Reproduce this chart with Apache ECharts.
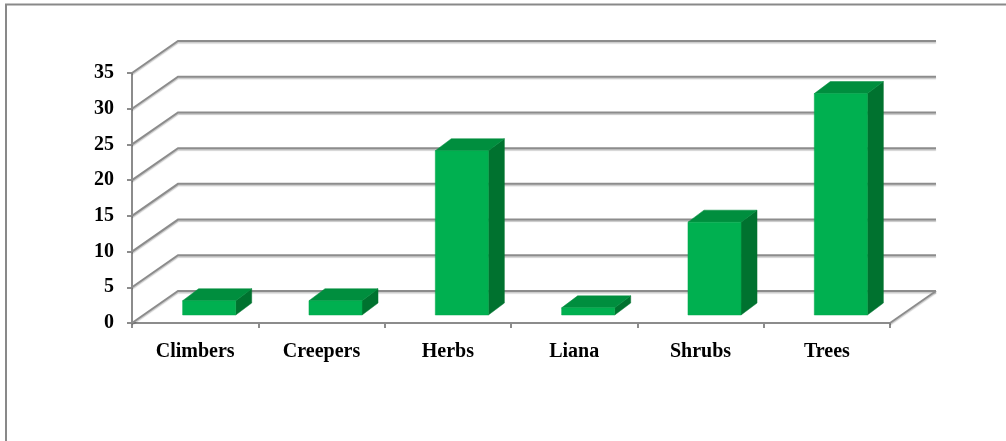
<!DOCTYPE html>
<html>
<head>
<meta charset="utf-8">
<script src="https://cdn.jsdelivr.net/npm/echarts@6/dist/echarts.min.js"></script>
<style>html,body{margin:0;padding:0;background:#fff;}#c{width:1006px;height:441px;}</style>
</head>
<body>
<div id="c"></div>
<script>
var categories = ['Climbers', 'Creepers', 'Herbs', 'Liana', 'Shrubs', 'Trees'];
var values = [2, 2, 23, 1, 13, 31];
var gridValues = [0, 5, 10, 15, 20, 25, 30, 35];

var DEPTH_X = 46, DEPTH_Y = -32;
var BAR_SHIFT_X = 14, BAR_SHIFT_Y = -8;
var BAR_DX = 16, BAR_DY = -12;
var lineGray = '#8c8c8c';
var labelFont = { fontFamily: 'Liberation Serif', fontWeight: 'bold', fontSize: 20, color: '#000' };

var chart = echarts.init(document.getElementById('c'), null, { renderer: 'canvas' });

var option = {
  animation: false,
  backgroundColor: '#fff',
  graphic: [{
    type: 'rect', z: 0, silent: true,
    shape: { x: 6, y: 4.5, width: 1100, height: 600 },
    style: { fill: 'none', stroke: '#898989', lineWidth: 2 }
  }],
  grid: { left: 132, right: 116, top: 73, bottom: 118, containLabel: false },
  xAxis: {
    type: 'category',
    data: categories,
    boundaryGap: true,
    axisLine: { show: true, lineStyle: { color: lineGray, width: 2 } },
    axisTick: { show: true, length: 5, lineStyle: { color: lineGray, width: 2 } },
    axisLabel: Object.assign({ margin: 19 }, labelFont),
    splitLine: { show: false }
  },
  yAxis: {
    type: 'value',
    min: 0, max: 35, interval: 5,
    axisLine: { show: true, lineStyle: { color: lineGray, width: 2 } },
    axisTick: { show: true, length: 5, lineStyle: { color: lineGray, width: 2 } },
    axisLabel: Object.assign({ margin: 18 }, labelFont),
    splitLine: { show: false }
  },
  series: [
    {
      type: 'custom',
      z: 1,
      silent: true,
      data: gridValues.map(function (v) { return [0, v]; }),
      renderItem: function (params, api) {
        var cs = params.coordSys;
        var v = api.value(1);
        var y = api.coord([0, v])[1];
        var gx = cs.x, gr = cs.x + cs.width;
        var children = [{
          type: 'polyline',
          shape: { points: [[gx, y], [gx + DEPTH_X, y + DEPTH_Y], [gr + DEPTH_X, y + DEPTH_Y]] },
          style: { fill: null, stroke: lineGray, lineWidth: 2, shadowColor: 'rgba(0,0,0,0.22)', shadowBlur: 1, shadowOffsetY: 1.5 }
        }];
        if (v === 0) {
          children.push({
            type: 'line',
            shape: { x1: gr, y1: y, x2: gr + DEPTH_X, y2: y + DEPTH_Y },
            style: { stroke: lineGray, lineWidth: 2, shadowColor: 'rgba(0,0,0,0.22)', shadowBlur: 1, shadowOffsetY: 1.5 }
          });
        }
        return { type: 'group', children: children };
      }
    },
    {
      type: 'custom',
      z: 3,
      silent: true,
      data: values.map(function (v, i) { return [i, v]; }),
      renderItem: function (params, api) {
        var idx = api.value(0), val = api.value(1);
        var base = api.coord([idx, 0]);
        var top = api.coord([idx, val]);
        var w = api.size([1, 0])[0] * 0.42;
        var fx = base[0] + BAR_SHIFT_X - w / 2;
        var fy0 = base[1] + BAR_SHIFT_Y;
        var fy1 = top[1] + BAR_SHIFT_Y;
        return {
          type: 'group',
          children: [
            {
              type: 'polygon',
              shape: { points: [[fx + w, fy1], [fx + w + BAR_DX, fy1 + BAR_DY], [fx + w + BAR_DX, fy0 + BAR_DY], [fx + w, fy0]] },
              style: { fill: '#00722F', stroke: '#00722F', lineWidth: 0.5 }
            },
            {
              type: 'polygon',
              shape: { points: [[fx, fy1], [fx + BAR_DX, fy1 + BAR_DY], [fx + w + BAR_DX, fy1 + BAR_DY], [fx + w, fy1]] },
              style: { fill: '#008E3E', stroke: '#008E3E', lineWidth: 0.5 }
            },
            {
              type: 'rect',
              shape: { x: fx, y: fy1, width: w, height: fy0 - fy1 },
              style: { fill: '#00B050', stroke: '#00A84C', lineWidth: 0.5 }
            }
          ]
        };
      }
    }
  ]
};
chart.setOption(option);
</script>
</body>
</html>
